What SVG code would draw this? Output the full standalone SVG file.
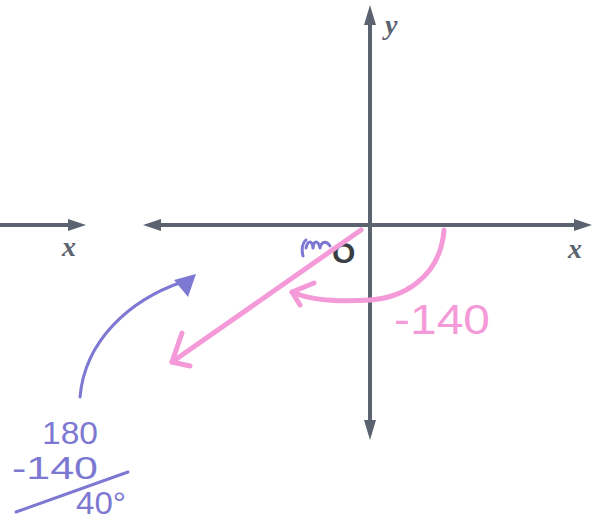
<svg xmlns="http://www.w3.org/2000/svg" width="601" height="522" viewBox="0 0 601 522">
<defs>
<style>
.ax{stroke:#5b6370;stroke-width:4;fill:none}
.ah{fill:#5b6370}
.pk{stroke:#f59ad9;stroke-width:5;fill:none;stroke-linecap:round;stroke-linejoin:round}
.pu{stroke:#7d78d2;stroke-width:3;fill:none;stroke-linecap:round;stroke-linejoin:round}
.lbl{font-family:"Liberation Serif",serif;font-style:italic;font-weight:bold;font-size:28px;fill:#5b6370}
.pkt{font-family:"Liberation Sans",sans-serif;font-size:42px;fill:#f59ad9}
.put{font-family:"Liberation Sans",sans-serif;font-size:32px;fill:#7d78d2}
</style>
</defs>
<rect width="601" height="522" fill="#fff"/>
<g id="axes">
<line class="ax" x1="0" y1="225" x2="80" y2="225"/>
<polygon class="ah" points="86,225 68,219 68,231"/>
<line class="ax" x1="150" y1="225" x2="585" y2="225"/>
<polygon class="ah" points="143,225 161,219 161,231"/>
<polygon class="ah" points="592,225 574,219 574,231"/>
<line class="ax" x1="370" y1="12" x2="370" y2="432"/>
<polygon class="ah" points="370,5 364,25 376,25"/>
<polygon class="ah" points="370,440 364,420 376,420"/>
</g>
<g id="labels">
<text class="lbl" x="62" y="256">x</text>
<text class="lbl" x="568" y="258">x</text>
<text class="lbl" x="385" y="34">y</text>
<text x="332" y="263" font-family="Liberation Sans,sans-serif" font-weight="bold" font-size="30" fill="#3a3d44">O</text>
</g>
<g id="pink">
<path class="pk" d="M361,230 L172,362"/>
<path class="pk" d="M182,333 L172,362 L190,366"/>
<path class="pk" d="M444,230 C440,280 400,298 370,300 C340,302 310,300 292,292"/>
<path class="pk" d="M314,283 L292,292 L300,305"/>
<text class="pkt" x="394" y="334" textLength="96" lengthAdjust="spacingAndGlyphs">-140</text>
</g>
<g id="purple">
<path class="pu" d="M303,256 C301,248 303,242 306,240 M306,248 C308,240 312,240 313,248 C314,240 318,240 320,248 C321,242 326,240 330,246"/>
<path class="pu" d="M80,397 C85,340 130,300 182,282"/>
<polygon fill="#7d78d2" points="196,274 174,280 188,297"/>
<text class="put" x="42" y="444" textLength="56" lengthAdjust="spacingAndGlyphs">180</text>
<text class="put" x="12" y="479" textLength="86" lengthAdjust="spacingAndGlyphs">-140</text>
<line class="pu" x1="16" y1="512" x2="128" y2="472"/>
<text class="put" x="76" y="514" textLength="50" lengthAdjust="spacingAndGlyphs">40°</text>
</g>
</svg>
